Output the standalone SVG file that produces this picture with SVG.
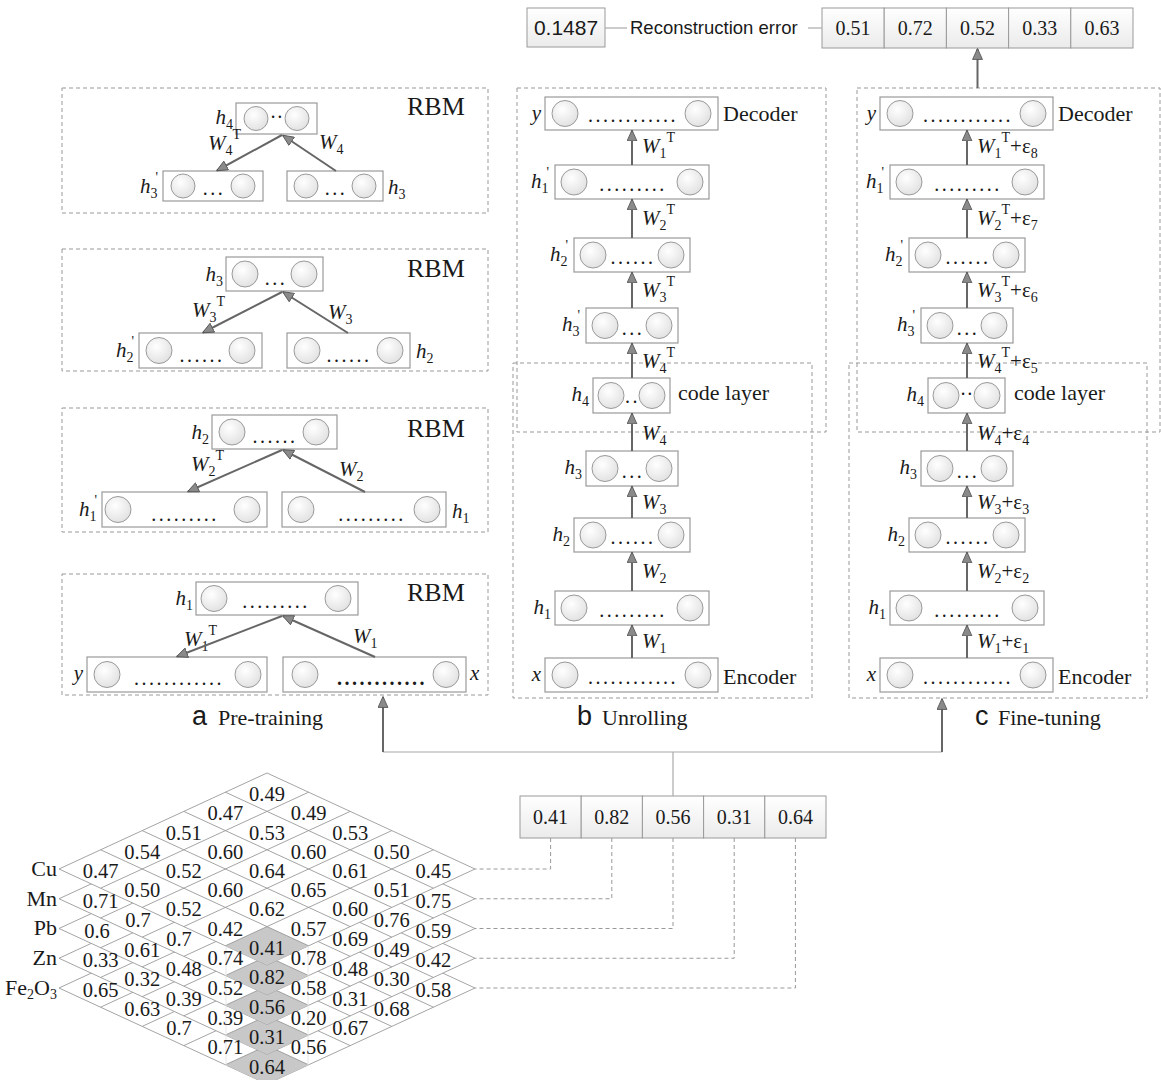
<svg xmlns="http://www.w3.org/2000/svg" width="1161" height="1080" viewBox="0 0 1161 1080">
<defs>
<style>
.dash{fill:none;stroke:#999;stroke-width:1;stroke-dasharray:4 3}
.box{fill:#fff;stroke:#9a9a9a;stroke-width:1.2}
.nd{fill:url(#cg);stroke:#9a9a9a;stroke-width:1}
.it{font-family:"Liberation Serif",serif;font-style:italic;font-size:21px;fill:#1a1a1a}
.s{font-style:normal;font-size:14px}
.n{font-style:normal;font-size:21px}
.tx{font-family:"Liberation Serif",serif;font-size:22px;fill:#1a1a1a}
.rbm{font-family:"Liberation Serif",serif;font-size:26px;fill:#1a1a1a}
.dots{font-family:"Liberation Serif",serif;font-size:20px;fill:#1a1a1a;letter-spacing:2.5px;text-anchor:middle}
.md{font-family:"Liberation Serif",serif;font-size:20px;fill:#1a1a1a;text-anchor:middle}
.arr{stroke:#666;stroke-width:2;fill:none;marker-end:url(#ah)}
.thin{stroke:#aaa;stroke-width:1.2;fill:none}
.dl{stroke:#999;stroke-width:1;fill:none;stroke-dasharray:4 3}
.cell{fill:url(#vg);stroke:#9a9a9a;stroke-width:1}
.val{font-family:"Liberation Serif",serif;font-size:20px;text-anchor:middle;fill:#1a1a1a}
.dg{font-family:"Liberation Serif",serif;font-size:20.5px;text-anchor:middle;fill:#1a1a1a}
.sans{font-family:"Liberation Sans",Arial,sans-serif;fill:#1a1a1a}
.gl{stroke:#9a9a9a;stroke-width:0.9}
</style>
<radialGradient id="cg" cx="40%" cy="35%" r="70%"><stop offset="0" stop-color="#ffffff"/><stop offset="1" stop-color="#e0e0e0"/></radialGradient>
<linearGradient id="vg" x1="0" y1="0" x2="0" y2="1"><stop offset="0" stop-color="#ffffff"/><stop offset="1" stop-color="#ebebeb"/></linearGradient>
<marker id="ah" viewBox="0 0 10 10" refX="9.5" refY="5" markerWidth="12" markerHeight="11" markerUnits="userSpaceOnUse" orient="auto"><path d="M0,0.5 L10,5 L0,9.5 Z" fill="#8a8a8a" stroke="#555" stroke-width="0.8"/></marker>
<g id="lyr">
<polygon points="267,773 475,869 267,965 59,869" fill="#fff" stroke="#9a9a9a" stroke-width="0.9"/>
<polygon points="267,926.6 308.6,945.8 267,965 225.4,945.8" fill="#c8c8c8"/>
<line class="gl" x1="308.6" y1="792.2" x2="100.6" y2="888.2"/>
<line class="gl" x1="350.2" y1="811.4" x2="142.2" y2="907.4"/>
<line class="gl" x1="391.8" y1="830.6" x2="183.8" y2="926.6"/>
<line class="gl" x1="433.4" y1="849.8" x2="225.4" y2="945.8"/>
<line class="gl" x1="225.4" y1="792.2" x2="433.4" y2="888.2"/>
<line class="gl" x1="183.8" y1="811.4" x2="391.8" y2="907.4"/>
<line class="gl" x1="142.2" y1="830.6" x2="350.2" y2="926.6"/>
<line class="gl" x1="100.6" y1="849.8" x2="308.6" y2="945.8"/>
</g>
</defs>
<rect width="1161" height="1080" fill="#fff"/>

<!-- top: reconstruction error -->
<g id="err">
<rect class="cell" x="527" y="8" width="78" height="39"/>
<text class="sans" x="566" y="35" font-size="21" text-anchor="middle">0.1487</text>
<text class="sans" x="630" y="34" font-size="18.5">Reconstruction error</text>
</g>
<g id="output">
<rect class="cell" x="822" y="8" width="62.2" height="40"/>
<rect class="cell" x="884.2" y="8" width="62.2" height="40"/>
<rect class="cell" x="946.4" y="8" width="62.2" height="40"/>
<rect class="cell" x="1008.6" y="8" width="62.2" height="40"/>
<rect class="cell" x="1070.8" y="8" width="62.2" height="40"/>
<text class="val" x="853.1" y="35">0.51</text>
<text class="val" x="915.3" y="35">0.72</text>
<text class="val" x="977.5" y="35">0.52</text>
<text class="val" x="1039.7" y="35">0.33</text>
<text class="val" x="1101.9" y="35">0.63</text>
</g>

<!-- panel a -->
<g id="a-rbm4">
<rect class="dash" x="62" y="88" width="426" height="125"/>
<text class="rbm" x="407" y="115">RBM</text>
<g id="a4-h4">
<rect class="box" x="236" y="103" width="81" height="31"/>
<circle class="nd" cx="256" cy="118.5" r="12"/><circle class="nd" cx="297" cy="118.5" r="12"/>
<text class="md" x="276.5" y="124">··</text>
<text class="it" x="233" y="124" text-anchor="end">h<tspan class="s" dy="5">4</tspan></text>
</g>
<g id="a4-h3p">
<rect class="box" x="163" y="171" width="100" height="30"/>
<circle class="nd" cx="183" cy="186" r="12"/><circle class="nd" cx="243" cy="186" r="12"/>
<text class="dots" x="214" y="195">...</text>
<text class="it" x="158" y="193" text-anchor="end">h<tspan class="s" dy="5">3</tspan><tspan class="s" dx="-2" dy="-16">'</tspan></text>
</g>
<g id="a4-h3">
<rect class="box" x="287" y="171" width="96" height="30"/>
<circle class="nd" cx="306" cy="186" r="12"/><circle class="nd" cx="364" cy="186" r="12"/>
<text class="dots" x="336" y="195">...</text>
<text class="it" x="388" y="194">h<tspan class="s" dy="5">3</tspan></text>
</g>
<text class="it" x="208" y="150">W<tspan class="s" dy="5">4</tspan><tspan class="s" dy="-16">T</tspan></text>
<text class="it" x="319" y="149">W<tspan class="s" dy="5">4</tspan></text>
</g>

<g id="a-rbm3">
<rect class="dash" x="62" y="249" width="426" height="122"/>
<text class="rbm" x="407" y="277">RBM</text>
<g id="a3-h3">
<rect class="box" x="226" y="257" width="97" height="34"/>
<circle class="nd" cx="245" cy="274" r="13"/><circle class="nd" cx="304" cy="274" r="13"/>
<text class="dots" x="276" y="285">...</text>
<text class="it" x="223" y="281" text-anchor="end">h<tspan class="s" dy="5">3</tspan></text>
</g>
<g id="a3-h2p">
<rect class="box" x="139" y="333" width="123" height="35"/>
<circle class="nd" cx="159" cy="350.5" r="13"/><circle class="nd" cx="242" cy="350.5" r="13"/>
<text class="dots" x="202" y="362">......</text>
<text class="it" x="134" y="357" text-anchor="end">h<tspan class="s" dy="5">2</tspan><tspan class="s" dx="-2" dy="-16">'</tspan></text>
</g>
<g id="a3-h2">
<rect class="box" x="287" y="333" width="123" height="35"/>
<circle class="nd" cx="307" cy="350.5" r="13"/><circle class="nd" cx="390" cy="350.5" r="13"/>
<text class="dots" x="349" y="362">......</text>
<text class="it" x="416" y="358">h<tspan class="s" dy="5">2</tspan></text>
</g>
<text class="it" x="192" y="317">W<tspan class="s" dy="5">3</tspan><tspan class="s" dy="-16">T</tspan></text>
<text class="it" x="328" y="319">W<tspan class="s" dy="5">3</tspan></text>
</g>

<g id="a-rbm2">
<rect class="dash" x="62" y="408" width="426" height="124"/>
<text class="rbm" x="407" y="437">RBM</text>
<g id="a2-h2">
<rect class="box" x="212" y="415" width="125" height="34"/>
<circle class="nd" cx="232" cy="432" r="13"/><circle class="nd" cx="316" cy="432" r="13"/>
<text class="dots" x="275" y="443">......</text>
<text class="it" x="209" y="439" text-anchor="end">h<tspan class="s" dy="5">2</tspan></text>
</g>
<g id="a2-h1p">
<rect class="box" x="102" y="492" width="165" height="35"/>
<circle class="nd" cx="118" cy="509.5" r="13"/><circle class="nd" cx="247" cy="509.5" r="13"/>
<text class="dots" x="185" y="521">.........</text>
<text class="it" x="97" y="516" text-anchor="end">h<tspan class="s" dy="5">1</tspan><tspan class="s" dx="-2" dy="-16">'</tspan></text>
</g>
<g id="a2-h1">
<rect class="box" x="282" y="492" width="164" height="35"/>
<circle class="nd" cx="301" cy="509.5" r="13"/><circle class="nd" cx="427" cy="509.5" r="13"/>
<text class="dots" x="372" y="521">.........</text>
<text class="it" x="452" y="518">h<tspan class="s" dy="5">1</tspan></text>
</g>
<text class="it" x="191" y="471">W<tspan class="s" dy="5">2</tspan><tspan class="s" dy="-16">T</tspan></text>
<text class="it" x="339" y="476">W<tspan class="s" dy="5">2</tspan></text>
</g>

<g id="a-rbm1">
<rect class="dash" x="62" y="574" width="426" height="121"/>
<text class="rbm" x="407" y="601">RBM</text>
<g id="a1-h1">
<rect class="box" x="196" y="582" width="162" height="33"/>
<circle class="nd" cx="214" cy="598.5" r="13"/><circle class="nd" cx="338" cy="598.5" r="13"/>
<text class="dots" x="276" y="608">.........</text>
<text class="it" x="193" y="605" text-anchor="end">h<tspan class="s" dy="5">1</tspan></text>
</g>
<g id="a1-y">
<rect class="box" x="87" y="657" width="180" height="35"/>
<circle class="nd" cx="107" cy="674.5" r="13"/><circle class="nd" cx="248" cy="674.5" r="13"/>
<text class="dots" x="179" y="685">............</text>
<text class="it" x="83" y="680" text-anchor="end">y</text>
</g>
<g id="a1-x">
<rect class="box" x="283" y="657" width="183" height="35"/>
<circle class="nd" cx="305" cy="674.5" r="13"/><circle class="nd" cx="446" cy="674.5" r="13"/>
<text class="dots" x="382" y="685" font-weight="bold">............</text>
<text class="it" x="470" y="680">x</text>
</g>
<text class="it" x="184" y="646">W<tspan class="s" dy="5">1</tspan><tspan class="s" dy="-16">T</tspan></text>
<text class="it" x="353" y="643">W<tspan class="s" dy="5">1</tspan></text>
</g>
<text class="sans" x="192" y="725" font-size="27">a</text>
<text class="tx" x="218" y="725">Pre-training</text>

<!-- panel b -->
<g id="b-frame">
<rect class="dash" x="517" y="88" width="309" height="344"/>
<rect class="dash" x="513" y="363" width="299" height="335"/>
</g>
<g id="b-y">
<rect class="box" x="545" y="97" width="173" height="33"/>
<circle class="nd" cx="565" cy="113.5" r="13"/><circle class="nd" cx="698" cy="113.5" r="13"/>
<text class="dots" x="633" y="122">............</text>
<text class="it" x="541" y="120" text-anchor="end">y</text>
<text class="tx" x="723" y="121">Decoder</text>
</g>
<g id="b-h1p">
<rect class="box" x="555" y="165" width="154" height="34"/>
<circle class="nd" cx="574" cy="182" r="13"/><circle class="nd" cx="690" cy="182" r="13"/>
<text class="dots" x="633" y="191">.........</text>
<text class="it" x="549" y="188" text-anchor="end">h<tspan class="s" dy="5">1</tspan><tspan class="s" dx="-2" dy="-16">'</tspan></text>
</g>
<g id="b-h2p">
<rect class="box" x="574" y="238" width="116" height="34"/>
<circle class="nd" cx="593" cy="255" r="13"/><circle class="nd" cx="671" cy="255" r="13"/>
<text class="dots" x="633" y="264">......</text>
<text class="it" x="568" y="261" text-anchor="end">h<tspan class="s" dy="5">2</tspan><tspan class="s" dx="-2" dy="-16">'</tspan></text>
</g>
<g id="b-h3p">
<rect class="box" x="586" y="308" width="92" height="35"/>
<circle class="nd" cx="605" cy="325.5" r="13"/><circle class="nd" cx="659" cy="325.5" r="13"/>
<text class="dots" x="633" y="335">...</text>
<text class="it" x="580" y="331" text-anchor="end">h<tspan class="s" dy="5">3</tspan><tspan class="s" dx="-2" dy="-16">'</tspan></text>
</g>
<g id="b-h4">
<rect class="box" x="593" y="378" width="77" height="35"/>
<circle class="nd" cx="611" cy="395.5" r="13"/><circle class="nd" cx="652" cy="395.5" r="13"/>
<text class="dots" x="632.5" y="403" letter-spacing="0">..</text>
<text class="it" x="589" y="401" text-anchor="end">h<tspan class="s" dy="5">4</tspan></text>
<text class="tx" x="678" y="400" font-size="18.5">code layer</text>
</g>
<g id="b-h3">
<rect class="box" x="586" y="451" width="92" height="35"/>
<circle class="nd" cx="605" cy="468.5" r="13"/><circle class="nd" cx="659" cy="468.5" r="13"/>
<text class="dots" x="633" y="478">...</text>
<text class="it" x="582" y="474" text-anchor="end">h<tspan class="s" dy="5">3</tspan></text>
</g>
<g id="b-h2">
<rect class="box" x="574" y="518" width="116" height="34"/>
<circle class="nd" cx="593" cy="535" r="13"/><circle class="nd" cx="671" cy="535" r="13"/>
<text class="dots" x="633" y="544">......</text>
<text class="it" x="570" y="541" text-anchor="end">h<tspan class="s" dy="5">2</tspan></text>
</g>
<g id="b-h1">
<rect class="box" x="555" y="591" width="154" height="34"/>
<circle class="nd" cx="574" cy="608" r="13"/><circle class="nd" cx="690" cy="608" r="13"/>
<text class="dots" x="633" y="617">.........</text>
<text class="it" x="551" y="614" text-anchor="end">h<tspan class="s" dy="5">1</tspan></text>
</g>
<g id="b-x">
<rect class="box" x="545" y="658" width="173" height="34"/>
<circle class="nd" cx="565" cy="675" r="13"/><circle class="nd" cx="698" cy="675" r="13"/>
<text class="dots" x="633" y="684">............</text>
<text class="it" x="541" y="681" text-anchor="end">x</text>
<text class="tx" x="723" y="684">Encoder</text>
</g>
<g id="b-wlabels">
<text class="it" x="642" y="648">W<tspan class="s" dy="5">1</tspan></text>
<text class="it" x="642" y="578">W<tspan class="s" dy="5">2</tspan></text>
<text class="it" x="642" y="509">W<tspan class="s" dy="5">3</tspan></text>
<text class="it" x="642" y="440">W<tspan class="s" dy="5">4</tspan></text>
<text class="it" x="642" y="368">W<tspan class="s" dy="5">4</tspan><tspan class="s" dy="-16">T</tspan></text>
<text class="it" x="642" y="297">W<tspan class="s" dy="5">3</tspan><tspan class="s" dy="-16">T</tspan></text>
<text class="it" x="642" y="225">W<tspan class="s" dy="5">2</tspan><tspan class="s" dy="-16">T</tspan></text>
<text class="it" x="642" y="153">W<tspan class="s" dy="5">1</tspan><tspan class="s" dy="-16">T</tspan></text>
</g>
<text class="sans" x="577" y="725" font-size="27">b</text>
<text class="tx" x="602" y="725">Unrolling</text>

<!-- panel c -->
<g id="c-frame">
<rect class="dash" x="857" y="88" width="303" height="344"/>
<rect class="dash" x="849" y="363" width="298" height="335"/>
</g>
<g id="c-y">
<rect class="box" x="880" y="97" width="173" height="33"/>
<circle class="nd" cx="900" cy="113.5" r="13"/><circle class="nd" cx="1033" cy="113.5" r="13"/>
<text class="dots" x="968" y="122">............</text>
<text class="it" x="876" y="120" text-anchor="end">y</text>
<text class="tx" x="1058" y="121">Decoder</text>
</g>
<g id="c-h1p">
<rect class="box" x="890" y="165" width="154" height="34"/>
<circle class="nd" cx="909" cy="182" r="13"/><circle class="nd" cx="1025" cy="182" r="13"/>
<text class="dots" x="968" y="191">.........</text>
<text class="it" x="884" y="188" text-anchor="end">h<tspan class="s" dy="5">1</tspan><tspan class="s" dx="-2" dy="-16">'</tspan></text>
</g>
<g id="c-h2p">
<rect class="box" x="909" y="238" width="116" height="34"/>
<circle class="nd" cx="928" cy="255" r="13"/><circle class="nd" cx="1006" cy="255" r="13"/>
<text class="dots" x="968" y="264">......</text>
<text class="it" x="903" y="261" text-anchor="end">h<tspan class="s" dy="5">2</tspan><tspan class="s" dx="-2" dy="-16">'</tspan></text>
</g>
<g id="c-h3p">
<rect class="box" x="921" y="308" width="92" height="35"/>
<circle class="nd" cx="940" cy="325.5" r="13"/><circle class="nd" cx="994" cy="325.5" r="13"/>
<text class="dots" x="968" y="335">...</text>
<text class="it" x="915" y="331" text-anchor="end">h<tspan class="s" dy="5">3</tspan><tspan class="s" dx="-2" dy="-16">'</tspan></text>
</g>
<g id="c-h4">
<rect class="box" x="928" y="378" width="77" height="35"/>
<circle class="nd" cx="946" cy="395.5" r="13"/><circle class="nd" cx="987" cy="395.5" r="13"/>
<text class="md" x="966.5" y="401">··</text>
<text class="it" x="924" y="401" text-anchor="end">h<tspan class="s" dy="5">4</tspan></text>
<text class="tx" x="1014" y="400" font-size="18.5">code layer</text>
</g>
<g id="c-h3">
<rect class="box" x="921" y="451" width="92" height="35"/>
<circle class="nd" cx="940" cy="468.5" r="13"/><circle class="nd" cx="994" cy="468.5" r="13"/>
<text class="dots" x="968" y="478">...</text>
<text class="it" x="917" y="474" text-anchor="end">h<tspan class="s" dy="5">3</tspan></text>
</g>
<g id="c-h2">
<rect class="box" x="909" y="518" width="116" height="34"/>
<circle class="nd" cx="928" cy="535" r="13"/><circle class="nd" cx="1006" cy="535" r="13"/>
<text class="dots" x="968" y="544">......</text>
<text class="it" x="905" y="541" text-anchor="end">h<tspan class="s" dy="5">2</tspan></text>
</g>
<g id="c-h1">
<rect class="box" x="890" y="591" width="154" height="34"/>
<circle class="nd" cx="909" cy="608" r="13"/><circle class="nd" cx="1025" cy="608" r="13"/>
<text class="dots" x="968" y="617">.........</text>
<text class="it" x="886" y="614" text-anchor="end">h<tspan class="s" dy="5">1</tspan></text>
</g>
<g id="c-x">
<rect class="box" x="880" y="658" width="173" height="34"/>
<circle class="nd" cx="900" cy="675" r="13"/><circle class="nd" cx="1033" cy="675" r="13"/>
<text class="dots" x="968" y="684">............</text>
<text class="it" x="876" y="681" text-anchor="end">x</text>
<text class="tx" x="1058" y="684">Encoder</text>
</g>
<g id="c-wlabels">
<text class="it" x="977" y="648">W<tspan class="s" dy="5">1</tspan><tspan class="n" dy="-5">+ε</tspan><tspan class="s" dy="5">1</tspan></text>
<text class="it" x="977" y="578">W<tspan class="s" dy="5">2</tspan><tspan class="n" dy="-5">+ε</tspan><tspan class="s" dy="5">2</tspan></text>
<text class="it" x="977" y="509">W<tspan class="s" dy="5">3</tspan><tspan class="n" dy="-5">+ε</tspan><tspan class="s" dy="5">3</tspan></text>
<text class="it" x="977" y="440">W<tspan class="s" dy="5">4</tspan><tspan class="n" dy="-5">+ε</tspan><tspan class="s" dy="5">4</tspan></text>
<text class="it" x="977" y="368">W<tspan class="s" dy="5">4</tspan><tspan class="s" dy="-16">T</tspan><tspan class="n" dy="11">+ε</tspan><tspan class="s" dy="5">5</tspan></text>
<text class="it" x="977" y="297">W<tspan class="s" dy="5">3</tspan><tspan class="s" dy="-16">T</tspan><tspan class="n" dy="11">+ε</tspan><tspan class="s" dy="5">6</tspan></text>
<text class="it" x="977" y="225">W<tspan class="s" dy="5">2</tspan><tspan class="s" dy="-16">T</tspan><tspan class="n" dy="11">+ε</tspan><tspan class="s" dy="5">7</tspan></text>
<text class="it" x="977" y="153">W<tspan class="s" dy="5">1</tspan><tspan class="s" dy="-16">T</tspan><tspan class="n" dy="11">+ε</tspan><tspan class="s" dy="5">8</tspan></text>
</g>
<text class="sans" x="975" y="725" font-size="27">c</text>
<text class="tx" x="998" y="725">Fine-tuning</text>

<!-- input vector -->
<g id="input">
<rect class="cell" x="520" y="796" width="61.2" height="42"/>
<rect class="cell" x="581.2" y="796" width="61.2" height="42"/>
<rect class="cell" x="642.4" y="796" width="61.2" height="42"/>
<rect class="cell" x="703.6" y="796" width="61.2" height="42"/>
<rect class="cell" x="764.8" y="796" width="61.2" height="42"/>
<text class="val" x="550.6" y="824">0.41</text>
<text class="val" x="611.8" y="824">0.82</text>
<text class="val" x="673" y="824">0.56</text>
<text class="val" x="734.2" y="824">0.31</text>
<text class="val" x="795.4" y="824">0.64</text>
</g>

<!-- stacked diamond grid -->
<g id="grid">
<use href="#lyr" y="119"/>
<use href="#lyr" y="89.25"/>
<use href="#lyr" y="59.5"/>
<use href="#lyr" y="29.75"/>
<use href="#lyr" y="0"/>
<line x1="226" y1="946" x2="226" y2="1066" stroke="#e6e6e6" stroke-width="1"/>
<line x1="308" y1="946" x2="308" y2="1066" stroke="#e6e6e6" stroke-width="1"/>
<g id="grid-text">
<text class="dg" x="267" y="801">0.49</text>
<text class="dg" x="225.4" y="820">0.47</text><text class="dg" x="308.6" y="820">0.49</text>
<text class="dg" x="183.8" y="840">0.51</text><text class="dg" x="267" y="840">0.53</text><text class="dg" x="350.2" y="840">0.53</text>
<text class="dg" x="142.2" y="859">0.54</text><text class="dg" x="225.4" y="859">0.60</text><text class="dg" x="308.6" y="859">0.60</text><text class="dg" x="391.8" y="859">0.50</text>
<text class="dg" x="100.6" y="878">0.47</text><text class="dg" x="183.8" y="878">0.52</text><text class="dg" x="267" y="878">0.64</text><text class="dg" x="350.2" y="878">0.61</text><text class="dg" x="433.4" y="878">0.45</text>
<text class="dg" x="142.2" y="897">0.50</text><text class="dg" x="225.4" y="897">0.60</text><text class="dg" x="308.6" y="897">0.65</text><text class="dg" x="391.8" y="897">0.51</text>
<text class="dg" x="183.8" y="916">0.52</text><text class="dg" x="267" y="916">0.62</text><text class="dg" x="350.2" y="916">0.60</text>
<text class="dg" x="225.4" y="936">0.42</text><text class="dg" x="308.6" y="936">0.57</text>
<text class="dg" x="267" y="955">0.41</text>
<text class="dg" x="100.6" y="908">0.71</text><text class="dg" x="138" y="927">0.7</text><text class="dg" x="179" y="946">0.7</text><text class="dg" x="225.4" y="965">0.74</text><text class="dg" x="267" y="984">0.82</text>
<text class="dg" x="433.4" y="908">0.75</text><text class="dg" x="391.8" y="927">0.76</text><text class="dg" x="350.2" y="946">0.69</text><text class="dg" x="308.6" y="965">0.78</text>
<text class="dg" x="97" y="938">0.6</text><text class="dg" x="142.2" y="957">0.61</text><text class="dg" x="183.8" y="976">0.48</text><text class="dg" x="225.4" y="995">0.52</text><text class="dg" x="267" y="1014">0.56</text>
<text class="dg" x="433.4" y="938">0.59</text><text class="dg" x="391.8" y="957">0.49</text><text class="dg" x="350.2" y="976">0.48</text><text class="dg" x="308.6" y="995">0.58</text>
<text class="dg" x="100.6" y="967">0.33</text><text class="dg" x="142.2" y="986">0.32</text><text class="dg" x="183.8" y="1006">0.39</text><text class="dg" x="225.4" y="1025">0.39</text><text class="dg" x="267" y="1044">0.31</text>
<text class="dg" x="433.4" y="967">0.42</text><text class="dg" x="391.8" y="986">0.30</text><text class="dg" x="350.2" y="1006">0.31</text><text class="dg" x="308.6" y="1025">0.20</text>
<text class="dg" x="100.6" y="997">0.65</text><text class="dg" x="142.2" y="1016">0.63</text><text class="dg" x="179" y="1035">0.7</text><text class="dg" x="225.4" y="1054">0.71</text><text class="dg" x="267" y="1074">0.64</text>
<text class="dg" x="433.4" y="997">0.58</text><text class="dg" x="391.8" y="1016">0.68</text><text class="dg" x="350.2" y="1035">0.67</text><text class="dg" x="308.6" y="1054">0.56</text>
</g>
<g id="grid-rows">
<text class="tx" x="57" y="876" font-size="21" text-anchor="end">Cu</text>
<text class="tx" x="57" y="906" font-size="21" text-anchor="end">Mn</text>
<text class="tx" x="57" y="935" font-size="21" text-anchor="end">Pb</text>
<text class="tx" x="57" y="965" font-size="21" text-anchor="end">Zn</text>
<text class="tx" x="57" y="995" font-size="21" text-anchor="end">Fe<tspan font-size="14" dy="4">2</tspan><tspan dy="-4">O</tspan><tspan font-size="14" dy="4">3</tspan></text>
</g>
</g>

<!-- connectors -->
<g id="connectors">
<line class="thin" x1="605" y1="28" x2="627" y2="28"/>
<line class="thin" x1="808" y1="28" x2="822" y2="28"/>
<line class="arr" x1="977.5" y1="88" x2="977.5" y2="49"/>
<line class="arr" x1="282" y1="135" x2="217" y2="170.5"/>
<line class="arr" x1="336" y1="171" x2="283" y2="135.5"/>
<line class="arr" x1="282" y1="292" x2="203" y2="332.5"/>
<line class="arr" x1="348" y1="333" x2="283" y2="292"/>
<line class="arr" x1="282" y1="450" x2="188" y2="491.5"/>
<line class="arr" x1="365" y1="492" x2="283" y2="450"/>
<line class="arr" x1="282" y1="616" x2="177" y2="656.5"/>
<line class="arr" x1="375" y1="657" x2="283" y2="616"/>
<line class="arr" x1="632" y1="658" x2="632" y2="625.5"/>
<line class="arr" x1="632" y1="591" x2="632" y2="552.5"/>
<line class="arr" x1="632" y1="518" x2="632" y2="486.5"/>
<line class="arr" x1="632" y1="451" x2="632" y2="413.5"/>
<line class="arr" x1="632" y1="378" x2="632" y2="343.5"/>
<line class="arr" x1="632" y1="308" x2="632" y2="272.5"/>
<line class="arr" x1="632" y1="238" x2="632" y2="199.5"/>
<line class="arr" x1="632" y1="165" x2="632" y2="130.5"/>
<line class="arr" x1="967" y1="658" x2="967" y2="625.5"/>
<line class="arr" x1="967" y1="591" x2="967" y2="552.5"/>
<line class="arr" x1="967" y1="518" x2="967" y2="486.5"/>
<line class="arr" x1="967" y1="451" x2="967" y2="413.5"/>
<line class="arr" x1="967" y1="378" x2="967" y2="343.5"/>
<line class="arr" x1="967" y1="308" x2="967" y2="272.5"/>
<line class="arr" x1="967" y1="238" x2="967" y2="199.5"/>
<line class="arr" x1="967" y1="165" x2="967" y2="130.5"/>
<polyline class="thin" points="383,752 942,752"/>
<line class="thin" x1="673" y1="752" x2="673" y2="796"/>
<line class="arr" x1="383" y1="752" x2="383" y2="697"/>
<line class="arr" x1="942" y1="752" x2="942" y2="699"/>
<polyline class="dl" points="550.6,838 550.6,869 475,869"/>
<polyline class="dl" points="611.8,838 611.8,898.75 475,898.75"/>
<polyline class="dl" points="673,838 673,928.5 475,928.5"/>
<polyline class="dl" points="734.2,838 734.2,958.25 475,958.25"/>
<polyline class="dl" points="795.4,838 795.4,988 475,988"/>
</g>
</svg>
